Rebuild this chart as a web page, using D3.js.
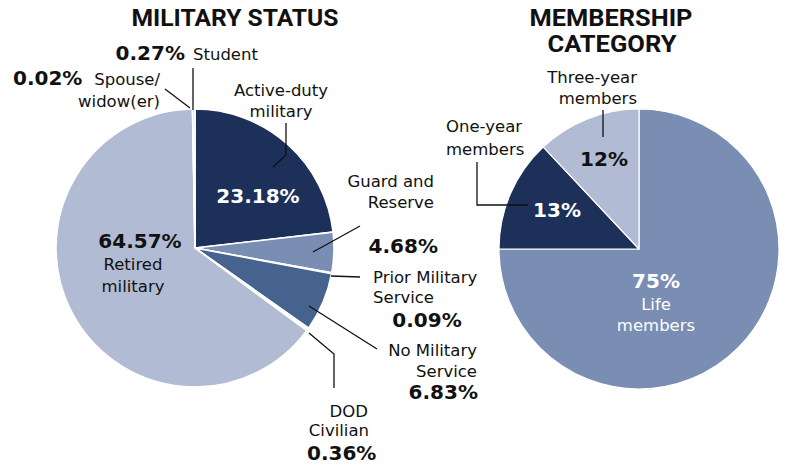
<!DOCTYPE html>
<html><head><meta charset="utf-8">
<script src="https://cdn.jsdelivr.net/npm/d3@7"></script>
<style>
html,body{margin:0;padding:0;background:#fff;}
svg{display:block;}
</style></head>
<body><svg id="c" width="786" height="468"></svg>
<script>
// ---- data ----
const militaryCategories = ["Active-duty military","Guard and Reserve","Prior Military Service","No Military Service","DOD Civilian","Retired military","Spouse/widow(er)","Student"];
const militaryValues = [23.18, 4.68, 0.09, 6.83, 0.36, 64.57, 0.02, 0.27];
const militaryColors = ["#1c3059","#7a8db3","#ffffff","#46638f","#ffffff","#b1bbd3","#ffffff","#cdd8ec"];

const membershipCategories = ["Life members","One-year members","Three-year members"];
const membershipValues = [75, 13, 12];
const membershipColors = ["#7a8db3","#1c3059","#b1bbd3"];

const svg = d3.select("#c");
const FONT = "'DejaVu Sans', sans-serif";
const pct2 = v => d3.format(".2f")(v) + "%";
const pct0 = v => d3.format(".0f")(v) + "%";

// titles
function title(txt, x, y, len){
  svg.append("text").attr("x",x).attr("y",y).attr("text-anchor","middle")
    .attr("font-family","Roboto, 'Liberation Sans', sans-serif").attr("font-weight","bold")
    .attr("font-size",24).attr("fill","#111")
    .attr("textLength",len).attr("lengthAdjust","spacingAndGlyphs").text(txt);
}
title("MILITARY STATUS", 235, 26, 207);
title("MEMBERSHIP", 611, 26, 163);
title("CATEGORY", 612, 52, 129);

// ---- pies ----
const pie = d3.pie().sort(null).value(d => d).startAngle(0).endAngle(2*Math.PI);

const g1 = svg.append("g").attr("transform","translate(195,248)");
const arc1 = d3.arc().innerRadius(0).outerRadius(139);
g1.selectAll("path").data(pie(militaryValues)).join("path")
  .attr("d", arc1).attr("fill",(d,i)=>militaryColors[i])
  .attr("stroke","#fff").attr("stroke-width",1.6).attr("stroke-linejoin","round");

const g2 = svg.append("g").attr("transform","translate(639,249)");
const arc2 = d3.arc().innerRadius(0).outerRadius(140);
g2.selectAll("path").data(pie(membershipValues)).join("path")
  .attr("d", arc2).attr("fill",(d,i)=>membershipColors[i])
  .attr("stroke","#fff").attr("stroke-width",1.2).attr("stroke-linejoin","round");

// ---- leader lines ----
const leaders = [
  "M193,68V110",
  "M165,89L190,108",
  "M286,123V155L273,167",
  "M313,252L360,226",
  "M331,276L360,277",
  "M309,306L377,349",
  "M309,333L334,354V388",
  "M603,110V137",
  "M477,162V205H528"
];
svg.append("g").selectAll("path").data(leaders).join("path")
  .attr("d",d=>d).attr("fill","none").attr("stroke","#111").attr("stroke-width",1.3);

// ---- labels ----
function t(txt, x, y, anchor, opts={}){
  svg.append("text").attr("x",x).attr("y",y).attr("text-anchor",anchor)
    .attr("font-family",FONT)
    .attr("font-weight",opts.bold?"bold":"normal")
    .attr("font-size",opts.bold?20:16.5)
    .attr("fill",opts.white?"#fff":"#111").text(txt);
}
const mv = militaryValues, bv = membershipValues;
// Student
t(pct2(mv[7]),185,60,"end",{bold:1}); t("Student",193,60,"start");
// Spouse
t(pct2(mv[6]),13,85,"start",{bold:1}); t("Spouse/",160,85,"end"); t("widow(er)",160,107,"end");
// Active-duty
t("Active-duty",281,96,"middle"); t("military",281,117,"middle");
t(pct2(mv[0]),258,203,"middle",{bold:1,white:1});
// Guard
t("Guard and",434,187,"end"); t("Reserve",434,208,"end"); t(pct2(mv[1]),438,253,"end",{bold:1});
// Prior
t("Prior Military",373,283,"start"); t("Service",373,303,"start"); t(pct2(mv[2]),427,327,"middle",{bold:1});
// No military
t("No Military",477,356,"end"); t("Service",477,377,"end"); t(pct2(mv[3]),478,399,"end",{bold:1});
// DOD
t("DOD",368,417,"end"); t("Civilian",369,436,"end"); t(pct2(mv[4]),307,460,"start",{bold:1});
// Retired
t(pct2(mv[5]),140,248,"middle",{bold:1}); t("Retired",133,270,"middle"); t("military",133,292,"middle");

// Membership
t("Three-year",637,83,"end"); t("members",637,104,"end");
t(pct0(bv[2]),604,166,"middle",{bold:1});
t("One-year",446,132,"start"); t("members",446,155,"start");
t(pct0(bv[1]),557,217,"middle",{bold:1,white:1});
t(pct0(bv[0]),656,288,"middle",{bold:1,white:1});
t("Life",656,310,"middle",{white:1}); t("members",656,331,"middle",{white:1});
</script>
</body></html>
